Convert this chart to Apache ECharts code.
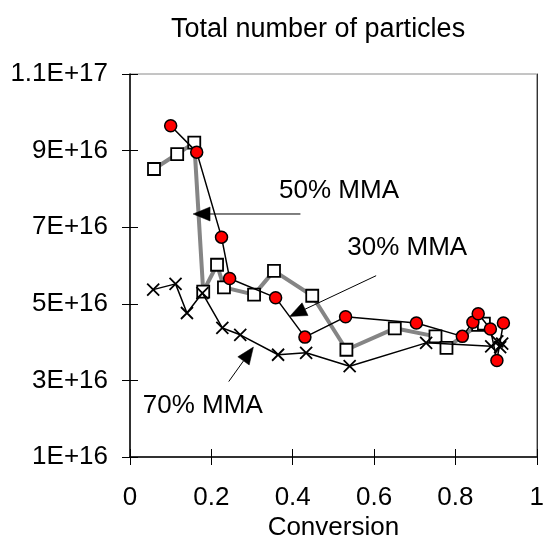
<!DOCTYPE html>
<html><head><meta charset="utf-8">
<script src="https://cdn.jsdelivr.net/npm/echarts/dist/echarts.min.js"></script>
<style>html,body{margin:0;padding:0;background:#fff}#c{width:547px;height:540px}</style>
</head><body><div id="c"></div>
<script>
// ---- chart text ----
const titleText = 'Total number of particles';
const xAxisName = 'Conversion';
const xTickLabels = ['0', '0.2', '0.4', '0.6', '0.8', '1'];
const yTickLabels = ['1E+16', '3E+16', '5E+16', '7E+16', '9E+16', '1.1E+17'];
const xMin = 0, xMax = 1, xStep = 0.2;
const yMin = 1e16, yMax = 1.1e17, yStep = 2e16;

// ---- series values ----
const mma30Conv = [0.100, 0.164, 0.225, 0.245, 0.358, 0.430, 0.530, 0.704, 0.817, 0.843, 0.856, 0.886, 0.902, 0.918];
const mma30Part = [9.65e16, 8.96e16, 6.74e16, 5.66e16, 5.16e16, 4.13e16, 4.66e16, 4.50e16, 4.15e16, 4.52e16, 4.74e16, 4.34e16, 3.52e16, 4.50e16];

const mma50Conv = [0.059, 0.116, 0.158, 0.180, 0.214, 0.231, 0.305, 0.354, 0.448, 0.532, 0.651, 0.751, 0.778, 0.856, 0.870];
const mma50Part = [8.52e16, 8.91e16, 9.21e16, 5.32e16, 6.02e16, 5.43e16, 5.24e16, 5.86e16, 5.21e16, 3.80e16, 4.36e16, 4.15e16, 3.85e16, 4.45e16, 4.48e16];

const mma70Conv = [0.057, 0.112, 0.140, 0.178, 0.227, 0.271, 0.364, 0.433, 0.540, 0.728, 0.888, 0.903, 0.910, 0.915];
const mma70Part = [5.37e16, 5.52e16, 4.76e16, 5.28e16, 4.37e16, 4.19e16, 3.67e16, 3.72e16, 3.37e16, 3.98e16, 3.89e16, 4.02e16, 3.87e16, 3.96e16];

// ---- annotations (data coordinates) ----
const annoLabels = ['50% MMA', '30% MMA', '70% MMA'];
const annoTextAt = [[0.3665, 7.95e16], [0.534, 6.465e16], [0.0316, 2.34e16]];
const annoArrowTail = [[0.419, 7.345e16], [0.6051, 5.734e16], [0.2427, 2.97e16]];
const annoArrowTip = [[0.155, 7.345e16], [0.3925, 4.67e16], [0.3034, 3.87e16]];

const FONT = '"Liberation Sans", Arial, sans-serif';
const zip = (a, b) => a.map((v, i) => [v, b[i]]);

const chart = echarts.init(document.getElementById('c'), null, {renderer: 'canvas'});

const xBase = {type: 'value', min: xMin, max: xMax, interval: xStep, gridIndex: 0, splitLine: {show: false}};
const yBase = {type: 'value', min: yMin, max: yMax, interval: yStep, gridIndex: 0, splitLine: {show: false}};

chart.setOption({
  animation: false,
  backgroundColor: '#fff',
  grid: {left: 130, top: 74, width: 412, height: 383, show: true, borderColor: '#8a8a8a', borderWidth: 1, backgroundColor: 'transparent'},
  xAxis: [
    Object.assign({}, xBase, {
      position: 'bottom',
      axisLine: {show: true, onZero: false, lineStyle: {color: '#000', width: 1.5}},
      axisTick: {show: true, inside: false, length: 8, lineStyle: {color: '#000', width: 1}},
      axisLabel: {show: true, margin: 28, color: '#000', fontSize: 26, fontFamily: FONT,
        formatter: v => xTickLabels[Math.round((v - xMin) / xStep)]}
    }),
    Object.assign({}, xBase, {
      position: 'bottom',
      axisLine: {show: false},
      axisTick: {show: true, inside: true, length: 8, lineStyle: {color: '#000', width: 1}},
      axisLabel: {show: false}
    })
  ],
  yAxis: [
    Object.assign({}, yBase, {
      position: 'left',
      axisLine: {show: true, onZero: false, lineStyle: {color: '#000', width: 1.5}},
      axisTick: {show: true, inside: false, length: 8, lineStyle: {color: '#000', width: 1}},
      axisLabel: {show: true, margin: 22, color: '#000', fontSize: 26, fontFamily: FONT,
        formatter: v => yTickLabels[Math.round((v - yMin) / yStep)]}
    }),
    Object.assign({}, yBase, {
      position: 'left',
      axisLine: {show: false},
      axisTick: {show: true, inside: true, length: 8, lineStyle: {color: '#000', width: 1}},
      axisLabel: {show: false}
    }),
    Object.assign({}, yBase, {
      position: 'right',
      axisLine: {show: true, onZero: false, lineStyle: {color: '#333', width: 1}},
      axisTick: {show: false},
      axisLabel: {show: false}
    })
  ],
  series: [
    {
      name: '50% MMA', type: 'line', xAxisIndex: 0, yAxisIndex: 0,
      data: zip(mma50Conv, mma50Part),
      symbol: 'rect', symbolSize: 12, showSymbol: true,
      lineStyle: {color: '#858585', width: 4},
      itemStyle: {color: '#ffffff', borderColor: '#000', borderWidth: 1.8},
      emphasis: {disabled: true}, z: 2
    },
    {
      name: '70% MMA', type: 'line', xAxisIndex: 0, yAxisIndex: 0,
      data: zip(mma70Conv, mma70Part),
      symbol: 'path://M0,0L10,10M10,0L0,10', symbolSize: 12, showSymbol: true,
      lineStyle: {color: '#000', width: 1.5},
      itemStyle: {color: 'rgba(0,0,0,0)', borderColor: '#000', borderWidth: 1.8},
      emphasis: {disabled: true}, z: 3
    },
    {
      name: '30% MMA', type: 'line', xAxisIndex: 0, yAxisIndex: 0,
      data: zip(mma30Conv, mma30Part),
      symbol: 'circle', symbolSize: 12, showSymbol: true,
      lineStyle: {color: '#000', width: 1.5},
      itemStyle: {color: '#ff0000', borderColor: '#000', borderWidth: 1.5},
      emphasis: {disabled: true}, z: 4
    }
  ]
});

// build title, axis name and annotation arrows from the chart's own scales
const toPx = p => chart.convertToPixel({xAxisIndex: 0, yAxisIndex: 0}, p);
const graphics = [];
graphics.push({type: 'text', left: 171, top: 16, silent: true,
  style: {text: titleText, fill: '#000', font: '27px ' + FONT}});
const plotCenterX = toPx([(xMin + xMax) / 2, yMin])[0];
graphics.push({type: 'text', x: plotCenterX, y: 528, silent: true,
  style: {text: xAxisName, fill: '#000', font: '26px ' + FONT, textAlign: 'center', textVerticalAlign: 'middle'}});
for (let i = 0; i < annoLabels.length; i++) {
  const tp = toPx(annoTextAt[i]);
  graphics.push({type: 'text', x: tp[0], y: tp[1], silent: true, z: 10,
    style: {text: annoLabels[i], fill: '#000', font: '26px ' + FONT, textAlign: 'left', textVerticalAlign: 'middle'}});
  const a = toPx(annoArrowTail[i]);
  const b = toPx(annoArrowTip[i]);
  const dx = b[0] - a[0], dy = b[1] - a[1];
  const len = Math.sqrt(dx * dx + dy * dy);
  const ux = dx / len, uy = dy / len;
  const L = 17, W = 14;
  const bx = b[0] - ux * L, by = b[1] - uy * L;
  const nx = -uy, ny = ux;
  graphics.push({type: 'line', silent: true, z: 10,
    shape: {x1: a[0], y1: a[1], x2: bx, y2: by}, style: {stroke: '#000', lineWidth: 1}});
  graphics.push({type: 'polygon', silent: true, z: 10,
    shape: {points: [[b[0], b[1]], [bx + nx * W / 2, by + ny * W / 2], [bx - nx * W / 2, by - ny * W / 2]]},
    style: {fill: '#000', stroke: '#000', lineWidth: 0.5}});
}
chart.setOption({graphic: graphics});
</script>
</body></html>
